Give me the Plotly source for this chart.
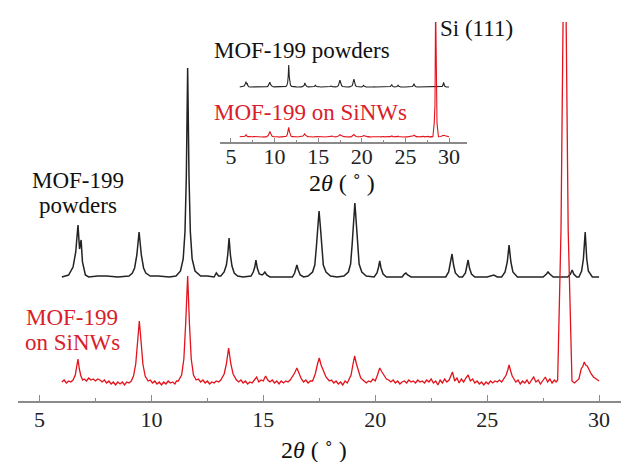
import plotly.graph_objects as go

# ---------------- data (2theta in degrees, intensity in arbitrary units) -------------
black_pattern = [
    (6.0, 0), (6.3, 2), (6.5, 10), (6.62, 25), (6.72, 52), (6.79, 28), (6.86, 37), (6.92, 15), (7.05, 2), (7.2, 0),
    (7.6, 1), (8.0, 1), (8.5, 0),
    (9.0, 1), (9.15, 4), (9.25, 9), (9.35, 22), (9.45, 45), (9.55, 22), (9.65, 9), (9.75, 4), (9.95, 1),
    (10.3, 1), (10.8, 0),
    (11.1, 1), (11.3, 6), (11.42, 18), (11.5, 45), (11.56, 100), (11.62, 209), (11.68, 100), (11.74, 45),
    (11.82, 18), (11.95, 6), (12.2, 1),
    (12.5, 1), (12.8, 0), (12.9, 4), (13.0, 1),
    (13.1, 1), (13.25, 5), (13.35, 12), (13.41, 22), (13.47, 39), (13.53, 22), (13.6, 11), (13.7, 4), (13.85, 1),
    (14.1, 0),
    (14.45, 1), (14.55, 5), (14.62, 10), (14.67, 17), (14.73, 9), (14.82, 3), (14.95, 2), (15.0, 3), (15.07, 5),
    (15.15, 2), (15.3, 0),
    (15.8, 0),
    (16.3, 0), (16.4, 4), (16.45, 8), (16.5, 12), (16.56, 7), (16.65, 2), (16.8, 0),
    (17.0, 1), (17.2, 5), (17.3, 12), (17.37, 30), (17.43, 50), (17.49, 66), (17.55, 50), (17.61, 30), (17.68, 12),
    (17.8, 5), (18.0, 1),
    (18.3, 0),
    (18.6, 1), (18.8, 5), (18.9, 13), (18.97, 33), (19.03, 55), (19.09, 74), (19.15, 55), (19.21, 33), (19.28, 13),
    (19.4, 5), (19.6, 1),
    (19.95, 0), (20.08, 4), (20.15, 10), (20.2, 16), (20.26, 9), (20.35, 3), (20.5, 0),
    (21.2, 0), (21.3, 3), (21.37, 4), (21.45, 2), (21.6, 0),
    (22.3, 0),
    (23.15, 0), (23.28, 5), (23.36, 13), (23.43, 23), (23.5, 12), (23.58, 4), (23.75, 0),
    (23.9, 0), (24.03, 4), (24.1, 10), (24.15, 17), (24.21, 9), (24.3, 3), (24.45, 0),
    (25.0, 0), (25.3, 2), (25.45, 0),
    (25.65, 0), (25.8, 5), (25.9, 15), (25.98, 32), (26.06, 15), (26.15, 5), (26.35, 0),
    (27.0, 0), (27.5, 0), (27.65, 3), (27.72, 5), (27.8, 3), (27.95, 0),
    (28.3, 0), (28.6, 0), (28.72, 3), (28.8, 7), (28.87, 3), (29.0, 0),
    (29.1, 0), (29.22, 6), (29.3, 18), (29.38, 45), (29.45, 18), (29.52, 6), (29.7, 0), (30.0, 0),
]

red_pattern = [
    (6.0, 2), (6.1, 4), (6.2, 1), (6.3, 3), (6.4, 2), (6.5, 4), (6.6, 9), (6.66, 16), (6.72, 25), (6.78, 15),
    (6.85, 8), (6.93, 4),
    (7.0, 5), (7.1, 3), (7.2, 6), (7.3, 4), (7.4, 5), (7.5, 3), (7.6, 5), (7.7, 4), (7.8, 2), (7.9, 4),
    (8.0, 1), (8.1, 3), (8.2, 0), (8.3, 2), (8.4, -1), (8.5, 2), (8.6, 0), (8.7, 2), (8.8, -1), (8.9, 2),
    (9.0, 1),
    (9.1, 3), (9.2, 8), (9.3, 20), (9.38, 42), (9.46, 63), (9.54, 42), (9.62, 20), (9.72, 8), (9.85, 3),
    (9.95, 4), (10.05, 1), (10.15, 3), (10.25, 0), (10.35, 2), (10.45, -1), (10.55, 2), (10.65, 0), (10.75, 3),
    (10.85, 1), (10.95, 2), (11.05, 0), (11.12, 3),
    (11.2, 3), (11.35, 9), (11.45, 25), (11.53, 60), (11.62, 108), (11.7, 60), (11.78, 25), (11.88, 9), (12.0, 4),
    (12.1, 5), (12.2, 2), (12.3, 4), (12.4, 1), (12.5, 3),
    (12.6, 0), (12.7, 2), (12.8, 1), (12.9, 3), (13.0, 2),
    (13.1, 4), (13.25, 10), (13.35, 20), (13.45, 36), (13.55, 20), (13.65, 10), (13.8, 4),
    (13.9, 2), (14.0, 4), (14.1, 1), (14.2, 3), (14.3, 0), (14.4, 2),
    (14.5, 1), (14.6, 4), (14.7, 7), (14.8, 2), (14.9, 4), (15.0, 3), (15.1, 8), (15.2, 4), (15.3, 2),
    (15.4, 4), (15.5, 1), (15.6, 3), (15.7, 0), (15.8, 3), (15.9, 1), (16.0, 3), (16.1, 2), (16.2, 4),
    (16.3, 7), (16.4, 11), (16.5, 16), (16.6, 10), (16.7, 5), (16.8, 2), (16.9, 4), (17.0, 1), (17.1, 3),
    (17.2, 3), (17.32, 10), (17.42, 20), (17.5, 26), (17.58, 19), (17.68, 14), (17.8, 7), (17.95, 3),
    (18.05, 4), (18.15, 1), (18.25, 3), (18.35, 0), (18.45, 2), (18.55, -1), (18.65, 3), (18.75, 1),
    (18.8, 3), (18.92, 9), (19.0, 19), (19.08, 28), (19.16, 20), (19.25, 12), (19.35, 6), (19.5, 3),
    (19.6, 1), (19.7, 3), (19.8, 2), (19.9, 5), (20.0, 3), (20.1, 9), (20.2, 16), (20.3, 12), (20.4, 8),
    (20.5, 5), (20.6, 4), (20.7, 2), (20.8, 4), (20.9, 1), (21.0, 3), (21.1, 0), (21.2, 2), (21.3, 3),
    (21.4, 1), (21.5, 4), (21.6, 2), (21.7, 3), (21.8, 1), (21.9, 4), (22.0, 2), (22.1, 3), (22.2, 1),
    (22.3, 4), (22.4, 2), (22.5, 5), (22.6, 1), (22.7, 3), (22.8, -1), (22.9, 4), (23.0, 1), (23.1, 5),
    (23.2, 2), (23.3, 4), (23.45, 12), (23.55, 3), (23.65, 6), (23.75, 1), (23.85, 5), (23.95, 2), (24.05, 6),
    (24.15, 9), (24.25, 3), (24.35, 5), (24.45, 1), (24.55, 3), (24.65, 0), (24.75, 2), (24.85, -1), (24.95, 2),
    (25.05, 0), (25.15, 3), (25.25, 1), (25.35, 3), (25.45, 2), (25.55, 4), (25.65, 2), (25.75, 5), (25.85, 9),
    (25.92, 14), (25.98, 19), (26.05, 13), (26.12, 8), (26.2, 5), (26.28, 2), (26.38, 4), (26.48, 0), (26.58, 3),
    (26.68, 1), (26.78, 4), (26.88, 0), (26.98, 4), (27.08, 7), (27.18, 2), (27.28, 4), (27.38, 0), (27.48, 3),
    (27.6, 7), (27.7, 2), (27.8, 5), (27.9, 1), (28.0, 4), (28.08, 2),
    (28.15, 4), (28.3, 154), (28.39, 361), (28.46, 1500), (28.53, 361), (28.62, 154), (28.79, 3),
    (28.9, 1), (29.0, 3), (29.1, 5), (29.2, 15), (29.28, 18), (29.34, 22), (29.4, 19), (29.47, 18),
    (29.55, 14), (29.65, 10), (29.75, 7), (29.85, 5), (30.0, 3),
]

black_2theta = [p[0] for p in black_pattern]
black_int = [p[1] for p in black_pattern]
red_2theta = [p[0] for p in red_pattern]
red_int = [p[1] for p in red_pattern]

x_ticks = [5, 10, 15, 20, 25, 30]
x_minor_ticks = [7.5, 12.5, 17.5, 22.5, 27.5]

# ---------------- layout / style ----------------
W, H = 621, 462
ML, MR, MT, MB = 18, 0, 22, 61
PW, PH = W - ML - MR, H - MT - MB

FONT = "Liberation Serif"
BLACK_LINE = "#232323"
RED_LINE = "#e3121b"
RED_TEXT = "#d9202a"
AXIS_COL = "#8a8a8a"

BLACK_OFFSET, RED_OFFSET = 124, 17               # main panel baselines
INSET_BLACK_SCALE, INSET_BLACK_OFFSET = 0.105, 55
INSET_RED_SCALE, INSET_RED_OFFSET = 0.09, 5


def px(xp, yp):
    return (xp - ML) / PW, (H - MB - yp) / PH


fig = go.Figure()
fig.add_trace(go.Scatter(x=black_2theta, y=[v + BLACK_OFFSET for v in black_int], mode="lines",
                         line=dict(color=BLACK_LINE, width=1.5), xaxis="x", yaxis="y", hoverinfo="skip"))
fig.add_trace(go.Scatter(x=red_2theta, y=[v + RED_OFFSET for v in red_int], mode="lines",
                         line=dict(color=RED_LINE, width=1.3), xaxis="x", yaxis="y", hoverinfo="skip"))
fig.add_trace(go.Scatter(x=black_2theta, y=[v * INSET_BLACK_SCALE + INSET_BLACK_OFFSET for v in black_int],
                         mode="lines", line=dict(color=BLACK_LINE, width=1.1), xaxis="x2", yaxis="y2",
                         hoverinfo="skip"))
fig.add_trace(go.Scatter(x=red_2theta, y=[v * INSET_RED_SCALE + INSET_RED_OFFSET for v in red_int],
                         mode="lines", line=dict(color=RED_LINE, width=1.1), xaxis="x2", yaxis="y2",
                         hoverinfo="skip"))

inset_x0, _ = px(220, 0)
inset_x1, _ = px(467, 0)
_, inset_y0 = px(0, 142)

axis_common = dict(showgrid=False, zeroline=False, showline=True, linecolor=AXIS_COL, linewidth=1.5,
                   ticks="inside", tickcolor=AXIS_COL, tickwidth=1.2, tickvals=x_ticks,
                   tickfont=dict(family=FONT, size=22, color="#222"), automargin=False)

fig.update_layout(
    width=W, height=H, margin=dict(l=ML, r=MR, t=MT, b=MB, autoexpand=False),
    paper_bgcolor="white", plot_bgcolor="white", showlegend=False,
    xaxis=dict(range=[4.04, 30.98], ticklen=6, ticklabelstandoff=-2,
               minor=dict(ticks="inside", ticklen=3, tickcolor=AXIS_COL, tickvals=x_minor_ticks),
               **axis_common),
    yaxis=dict(range=[0, PH], visible=False),
    xaxis2=dict(domain=[inset_x0, inset_x1], anchor="y2", range=[3.74, 32.06], ticklen=4, ticklabelstandoff=-6,
                minor=dict(ticks="inside", ticklen=2, tickcolor=AXIS_COL, tickvals=x_minor_ticks),
                **axis_common),
    yaxis2=dict(domain=[inset_y0, 1], anchor="x2", range=[0, 120], visible=False),
)


def label(text, xp, yp, color, size=23, xanchor="center"):
    x, y = px(xp, yp)
    fig.add_annotation(text=text, x=x, y=y, xref="paper", yref="paper", xanchor=xanchor, yanchor="middle",
                       showarrow=False, font=dict(family=FONT, size=size, color=color))


label("Si (111)", 438, 28, "#111", xanchor="left")
label("MOF-199 powders", 212, 50, "#111", xanchor="left")
label("MOF-199 on SiNWs", 212, 112, RED_TEXT, xanchor="left")
label("MOF-199", 78, 180, "#111")
label("powders", 78, 206, "#111")
label("MOF-199", 72, 317, RED_TEXT)
label("on SiNWs", 72, 342, RED_TEXT)
label("2<i>θ</i> ( ˚ )", 314, 450, "#111", size=24)
label("2<i>θ</i> ( ˚ )", 342, 183, "#111", size=24)

fig.write_html("out.html", config={"displayModeBar": False},
               post_script="document.body.style.margin='0px';")
